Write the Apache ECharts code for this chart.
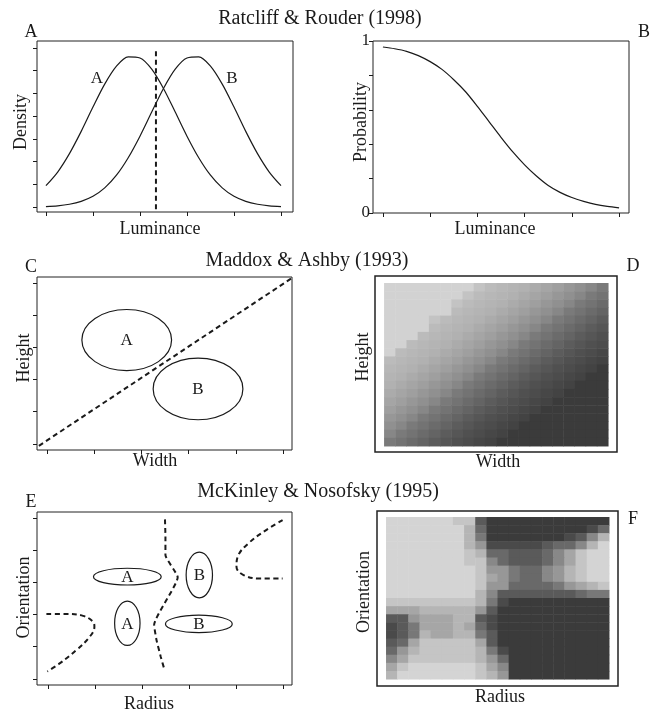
<!DOCTYPE html>
<html>
<head>
<meta charset="utf-8">
<script src="https://cdn.jsdelivr.net/npm/echarts@6.0.0/dist/echarts.min.js"></script>
<style>
html,body{margin:0;padding:0;background:#ffffff;}
#chart{width:655px;height:713px;}
</style>
</head>
<body>
<div id="chart"></div>
<script>
// ---------------- DATA ----------------
// Panel A: two luminance densities
const lumX = [0,0.5,1,1.5,2,2.5,3,3.5,4,4.5,5,5.5,6,6.5,7,7.5,8,8.5,9,9.5,10];
const densityA = [0.94,1.54,2.35,3.33,4.40,5.41,6.20,6.61,6.56,6.07,5.22,4.18,3.12,2.17,1.40,0.84,0.47,0.25,0.12,0.05,0.02];
const densityB = [0.02,0.05,0.12,0.25,0.47,0.84,1.40,2.17,3.12,4.18,5.22,6.07,6.56,6.61,6.20,5.41,4.40,3.33,2.35,1.54,0.94];
const criterionX = [4.68, 4.68];
const criterionY = [-0.1, 7.0];
const lumTicks = [0,2,4,6,8,10];
const densityTicks = [0,1,2,3,4,5,6,7];
const curveLabels = ['A','B'];
const curveLabelX = [2.17, 7.91];
const curveLabelY = [5.64, 5.64];

// Panel B: probability of responding A
const probA = [0.965,0.955,0.94,0.915,0.88,0.835,0.775,0.705,0.62,0.53,0.44,0.355,0.28,0.215,0.16,0.12,0.09,0.068,0.05,0.038,0.03];
const probTicks = [0,0.2,0.4,0.6,0.8,1];
const probTickLabels = [0,1];

// Panel C: general recognition ellipses + linear bound
const dimTicks = [0,1,2,3,4,5];
const boundCX = [-0.17, 5.19];
const boundCY = [-0.06, 5.16];
const ellLabelC = ['A','B'];
const ellCxC = [1.69, 3.20];
const ellCyC = [3.23, 1.71];
const ellRxC = [0.95, 0.95];
const ellRyC = [0.95, 0.96];

// Panel D: response probability grid (0 = light, 10 = dark), row 0 = top
const heatD = [
 [0,0,0,0,0,0,0,0,1,1.5,1.8,2,2.2,2.6,3,3.4,3.9,4.4,5,5.8],
 [0,0,0,0,0,0,0,1,1.5,1.8,2,2.2,2.6,3,3.4,3.9,4.4,5,5.8,6.3],
 [0,0,0,0,0,0,1,1.5,1.8,2,2.2,2.6,3,3.4,3.9,4.4,5,5.8,6.3,6.8],
 [0,0,0,0,0,0,1.5,1.8,2,2.2,2.6,3,3.4,3.9,4.4,5,5.8,6.3,6.8,7.3],
 [0,0,0,0,1,1.5,1.8,2,2.2,2.6,3,3.4,3.9,4.4,5,5.8,6.3,6.8,7.3,7.8],
 [0,0,0,0,1.5,1.8,2,2.2,2.6,3,3.4,3.9,4.4,5,5.8,6.3,6.8,7.3,7.8,8.2],
 [0,0,0,1.5,1.8,2,2.2,2.6,3,3.4,3.9,4.4,5,5.8,6.3,6.8,7.3,7.8,8.2,8.6],
 [0,0,1.5,1.8,2,2.2,2.6,3,3.4,3.9,4.4,5,5.8,6.3,6.8,7.3,7.8,8.2,8.6,8.9],
 [0,1.5,1.8,2,2.2,2.6,3,3.4,3.9,4.4,5,5.8,6.3,6.8,7.3,7.8,8.2,8.6,8.9,9.2],
 [1.5,1.8,2,2.2,2.6,3,3.4,3.9,4.4,5,5.8,6.3,6.8,7.3,7.8,8.2,8.6,8.9,9.2,9.5],
 [1.8,2,2.2,2.6,3,3.4,3.9,4.4,5,5.8,6.3,6.8,7.3,7.8,8.2,8.6,8.9,9.2,9.5,10],
 [2,2.2,2.6,3,3.4,3.9,4.4,5,5.8,6.3,6.8,7.3,7.8,8.2,8.6,8.9,9.2,9.5,10,10],
 [2.2,2.6,3,3.4,3.9,4.4,5,5.8,6.3,6.8,7.3,7.8,8.2,8.6,8.9,9.2,9.5,10,10,10],
 [2.6,3,3.4,3.9,4.4,5,5.8,6.3,6.8,7.3,7.8,8.2,8.6,8.9,9.2,9.5,10,10,10,10],
 [3,3.4,3.9,4.4,5,5.8,6.3,6.8,7.3,7.8,8.2,8.6,8.9,9.2,9.5,10,10,10,10,10],
 [3.4,3.9,4.4,5,5.8,6.3,6.8,7.3,7.8,8.2,8.6,8.9,9.2,9.5,10,10,10,10,10,10],
 [3.9,4.4,5,5.8,6.3,6.8,7.3,7.8,8.2,8.6,8.9,9.2,9.5,10,10,10,10,10,10,10],
 [4.4,5,5.8,6.3,6.8,7.3,7.8,8.2,8.6,8.9,9.2,9.5,10,10,10,10,10,10,10,10],
 [5,5.8,6.3,6.8,7.3,7.8,8.2,8.6,8.9,9.2,9.5,10,10,10,10,10,10,10,10,10],
 [5.8,6.3,6.8,7.3,7.8,8.2,8.6,8.9,9.2,9.5,10,10,10,10,10,10,10,10,10,10]
];

// Panel E: four ellipses + three quadratic bound pieces
const ellLabelE = ['A','B','A','B'];
const ellCxE = [1.69, 3.22, 1.69, 3.21];
const ellCyE = [3.18, 3.23, 1.73, 1.71];
const ellRxE = [0.72, 0.28, 0.27, 0.71];
const ellRyE = [0.26, 0.71, 0.69, 0.27];
const boundE1X = [-0.03,0.40,0.75,0.96,0.99,0.89,0.61,0.26,-0.01];
const boundE1Y = [2.02,2.02,1.96,1.78,1.62,1.31,0.90,0.49,0.23];
const boundE2X = [2.49,2.50,2.50,2.76,2.26,2.31,2.40,2.48];
const boundE2Y = [4.96,4.42,3.85,3.16,1.68,1.21,0.69,0.28];
const boundE3X = [4.99,4.58,4.26,4.05,4.01,4.16,4.51,4.99];
const boundE3Y = [4.94,4.57,4.21,3.85,3.49,3.23,3.12,3.12];

// Panel F: response probability grid (0 = light, 10 = dark), row 0 = top
const heatF = [
 [0,0,0,0,0,0,1,1,8,10,10,10,10,10,10,10,10,10,10,10],
 [0,0,0,0,0,0,0,2,7,10,10,10,10,10,10,10,10,10,9,7],
 [0,0,0,0,0,0,0,2,6,10,10,10,10,10,10,10,9,8,5,2],
 [0,0,0,0,0,0,0,2,4,9,9,9,9,9,8,7,7,5,2,0],
 [0,0,0,0,0,0,0,1,2,7,7,8,8,8,7,5,3,1,0,0],
 [0,0,0,0,0,0,0,1,1,5,7,8,8,8,7,5,3,1,0,0],
 [0,0,0,0,0,0,0,0,1,4,4,6,7,7,5,4,2,1,0,0],
 [0,0,0,0,0,0,0,0,1,3,4,6,7,7,5,4,2,1,0,0],
 [0,0,0,0,0,0,0,0,1,4,4,7,7,7,7,6,4,3,2,1],
 [0,0,0,0,0,0,0,0,2,5,8,8,8,8,8,8,8,7,6,6],
 [1,1,1,1,1,1,1,1,2,6,9,10,10,10,10,10,10,10,10,10],
 [3,3,3,2,2,2,2,2,4,8,10,10,10,10,10,10,10,10,10,10],
 [8,8,4,3,3,3,2,2,8,9,10,10,10,10,10,10,10,10,10,10],
 [9,8,6,3,3,3,2,3,7,9,10,10,10,10,10,10,10,10,10,10],
 [9,8,6,2,3,3,2,2,6,8,10,10,10,10,10,10,10,10,10,10],
 [8,7,3,1,1,1,1,1,3,8,10,10,10,10,10,10,10,10,10,10],
 [7,4,2,1,1,1,1,1,2,6,9,10,10,10,10,10,10,10,10,10],
 [5,3,1,1,1,1,1,1,2,4,7,10,10,10,10,10,10,10,10,10],
 [3,1,0,0,0,0,0,0,1,3,5,10,10,10,10,10,10,10,10,10],
 [2,0,0,0,0,0,0,0,1,2,4,10,10,10,10,10,10,10,10,10]
];

// ---------------- CHART ----------------
const FONT = '"Liberation Serif", "DejaVu Serif", serif';
const INK = '#1a1a1a';
const zip = (xs, ys) => xs.map((x, i) => [x, ys[i]]);
const gridCells = (m) => {
  const out = [];
  const n = m.length;
  m.forEach((row, r) => row.forEach((v, c) => out.push([c, n - 1 - r, v])));
  return out;
};

function mkAxis(gi, min, max, ticks, name, gap, padding, labels) {
  return {
    type: 'value', gridIndex: gi, min: min, max: max,
    axisLine: { show: false, onZero: false },
    splitLine: { show: false },
    axisTick: ticks ? { show: true, customValues: ticks, length: 4, inside: false, lineStyle: { color: INK, width: 1 } } : { show: false },
    axisLabel: labels ? { show: true, customValues: labels, margin: 3, fontFamily: FONT, fontSize: 17, color: INK } : { show: false },
    name: name, nameLocation: 'middle', nameGap: gap, nameMoveOverlap: false,
    nameTextStyle: { fontFamily: FONT, fontSize: 18, color: INK, padding: padding }
  };
}

function gridBox(left, top, width, height, bw) {
  return { left: left, top: top, width: width, height: height, show: true,
    borderColor: '#222', borderWidth: bw, backgroundColor: 'transparent', outerBoundsMode: 'none', containLabel: false };
}

function ellipseRender(labels) {
  return function (params, api) {
    const c = api.coord([api.value(0), api.value(1)]);
    const s = api.size([api.value(2), api.value(3)]);
    return {
      type: 'group',
      children: [
        { type: 'ellipse', shape: { cx: c[0], cy: c[1], rx: s[0], ry: s[1] },
          style: { fill: 'none', stroke: INK, lineWidth: 1.2 } },
        { type: 'text', x: c[0], y: c[1] + 1,
          style: { text: labels[params.dataIndex], font: '17px ' + FONT, fill: INK, align: 'center', verticalAlign: 'middle' } }
      ]
    };
  };
}

function cellRender(params, api) {
  const p = api.coord([api.value(0), api.value(1)]);
  const s = api.size([1, 1]);
  return { type: 'rect',
    shape: { x: p[0] - s[0] / 2, y: p[1] - s[1] / 2, width: s[0] + 0.5, height: s[1] + 0.5 },
    style: { fill: api.visual('color') } };
}

function textRender(labels) {
  return function (params, api) {
    const c = api.coord([api.value(0), api.value(1)]);
    return { type: 'text', x: c[0], y: c[1],
      style: { text: labels[params.dataIndex], font: '17px ' + FONT, fill: INK, align: 'center', verticalAlign: 'middle' } };
  };
}

const dash = { color: INK, width: 2, type: [5, 3.5] };
const solid = { color: INK, width: 1.2 };

const option = {
  animation: false,
  backgroundColor: '#ffffff',
  grid: [
    gridBox(37, 41, 256, 171, 1),
    gridBox(373, 41, 256, 172, 1),
    gridBox(37, 277, 255, 173, 1),
    gridBox(375, 276, 242, 176, 1.5),
    gridBox(37, 512, 255, 173, 1),
    gridBox(377, 511, 241, 175, 1.5)
  ],
  xAxis: [
    mkAxis(0, -0.38, 10.51, lumTicks, 'Luminance', 8, [0, 10, 0, 0]),
    mkAxis(1, -0.42, 10.42, lumTicks, 'Luminance', 7, [0, 12, 0, 0]),
    mkAxis(2, -0.21, 5.19, dimTicks, 'Width', 2, [0, 19, 0, 0]),
    mkAxis(3, -1.31, 20.30, null, 'Width', 1, [0, 0, 0, 4]),
    mkAxis(4, -0.23, 5.19, dimTicks, 'Radius', 10, [0, 31, 0, 0]),
    mkAxis(5, -1.31, 20.31, null, 'Radius', 2, [0, 0, 0, 5])
  ],
  yAxis: [
    mkAxis(0, -0.22, 7.31, densityTicks, 'Density', 7, [0, 0, 0, 9]),
    mkAxis(1, 0, 1, probTicks, 'Probability', 3, [0, 0, 0, 10], probTickLabels),
    mkAxis(2, -0.19, 5.19, dimTicks, 'Height', 4, [0, 0, 0, 11]),
    mkAxis(3, -1.24, 20.36, null, 'Height', 3, [0, 0, 0, 14]),
    mkAxis(4, -0.19, 5.19, dimTicks, 'Orientation', 4, [0, 0, 0, 2]),
    mkAxis(5, -1.36, 20.24, null, 'Orientation', 4, [0, 0, 0, 13])
  ],
  visualMap: [
    { type: 'continuous', show: false, seriesIndex: 7, dimension: 2, min: 0, max: 10, inRange: { color: ['#d2d2d2', '#3b3b3b'] } },
    { type: 'continuous', show: false, seriesIndex: 12, dimension: 2, min: 0, max: 10, inRange: { color: ['#d4d4d4', '#3b3b3b'] } }
  ],
  series: [
    { type: 'line', xAxisIndex: 0, yAxisIndex: 0, data: zip(lumX, densityA), smooth: 0.3, showSymbol: false, lineStyle: solid, silent: true },
    { type: 'line', xAxisIndex: 0, yAxisIndex: 0, data: zip(lumX, densityB), smooth: 0.3, showSymbol: false, lineStyle: solid, silent: true },
    { type: 'line', xAxisIndex: 0, yAxisIndex: 0, data: zip(criterionX, criterionY), showSymbol: false, lineStyle: dash, silent: true },
    { type: 'custom', xAxisIndex: 0, yAxisIndex: 0, data: zip(curveLabelX, curveLabelY), renderItem: textRender(curveLabels), silent: true, clip: false },
    { type: 'line', xAxisIndex: 1, yAxisIndex: 1, data: zip(lumX, probA), smooth: 0.3, showSymbol: false, lineStyle: solid, silent: true },
    { type: 'line', xAxisIndex: 2, yAxisIndex: 2, data: zip(boundCX, boundCY), showSymbol: false, lineStyle: dash, silent: true },
    { type: 'custom', xAxisIndex: 2, yAxisIndex: 2, data: ellCxC.map((x, i) => [x, ellCyC[i], ellRxC[i], ellRyC[i]]), renderItem: ellipseRender(ellLabelC), silent: true, clip: false },
    { type: 'custom', xAxisIndex: 3, yAxisIndex: 3, data: gridCells(heatD), renderItem: cellRender, silent: true, encode: { x: 0, y: 1 } },
    { type: 'custom', xAxisIndex: 4, yAxisIndex: 4, data: ellCxE.map((x, i) => [x, ellCyE[i], ellRxE[i], ellRyE[i]]), renderItem: ellipseRender(ellLabelE), silent: true, clip: false },
    { type: 'line', xAxisIndex: 4, yAxisIndex: 4, data: zip(boundE1X, boundE1Y), smooth: 0.4, showSymbol: false, lineStyle: dash, silent: true },
    { type: 'line', xAxisIndex: 4, yAxisIndex: 4, data: zip(boundE2X, boundE2Y), smooth: 0.15, showSymbol: false, lineStyle: dash, silent: true },
    { type: 'line', xAxisIndex: 4, yAxisIndex: 4, data: zip(boundE3X, boundE3Y), smooth: 0.4, showSymbol: false, lineStyle: dash, silent: true },
    { type: 'custom', xAxisIndex: 5, yAxisIndex: 5, data: gridCells(heatF), renderItem: cellRender, silent: true, encode: { x: 0, y: 1 } }
  ],
  graphic: [
    { type: 'text', x: 320, y: 19, style: { text: 'Ratcliff & Rouder (1998)', font: '20px ' + FONT, fill: INK, align: 'center', verticalAlign: 'middle' } },
    { type: 'text', x: 307, y: 261, style: { text: 'Maddox & Ashby (1993)', font: '20px ' + FONT, fill: INK, align: 'center', verticalAlign: 'middle' } },
    { type: 'text', x: 318, y: 492, style: { text: 'McKinley & Nosofsky (1995)', font: '20px ' + FONT, fill: INK, align: 'center', verticalAlign: 'middle' } },
    { type: 'text', x: 31, y: 32, style: { text: 'A', font: '18px ' + FONT, fill: INK, align: 'center', verticalAlign: 'middle' } },
    { type: 'text', x: 644, y: 32, style: { text: 'B', font: '18px ' + FONT, fill: INK, align: 'center', verticalAlign: 'middle' } },
    { type: 'text', x: 31, y: 267, style: { text: 'C', font: '18px ' + FONT, fill: INK, align: 'center', verticalAlign: 'middle' } },
    { type: 'text', x: 633, y: 266, style: { text: 'D', font: '18px ' + FONT, fill: INK, align: 'center', verticalAlign: 'middle' } },
    { type: 'text', x: 31, y: 502, style: { text: 'E', font: '18px ' + FONT, fill: INK, align: 'center', verticalAlign: 'middle' } },
    { type: 'text', x: 633, y: 519, style: { text: 'F', font: '18px ' + FONT, fill: INK, align: 'center', verticalAlign: 'middle' } }
  ]
};

const chart = echarts.init(document.getElementById('chart'), null, { renderer: 'canvas' });
chart.setOption(option);
</script>
</body>
</html>
